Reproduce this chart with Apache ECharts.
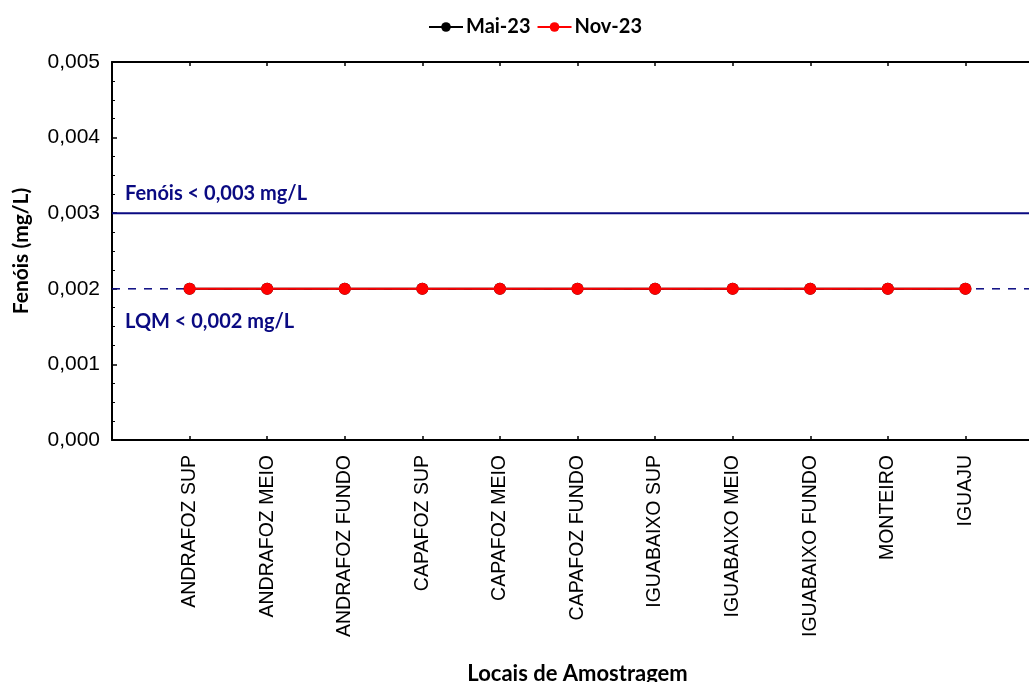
<!DOCTYPE html>
<html>
<head>
<meta charset="utf-8">
<script src="https://cdn.jsdelivr.net/npm/echarts@6/dist/echarts.min.js"></script>
<style>
  html, body { margin: 0; padding: 0; background: #fff; }
  #chart { width: 1029px; height: 682px; }
</style>
</head>
<body>
<div id="chart"></div>
<script>
// Sampling sites
const categories = [
  'ANDRAFOZ SUP', 'ANDRAFOZ MEIO', 'ANDRAFOZ FUNDO',
  'CAPAFOZ SUP', 'CAPAFOZ MEIO', 'CAPAFOZ FUNDO',
  'IGUABAIXO SUP', 'IGUABAIXO MEIO', 'IGUABAIXO FUNDO',
  'MONTEIRO', 'IGUAJU'
];
// Phenol concentrations (mg/L) per campaign
const mai23 = [0.002, 0.002, 0.002, 0.002, 0.002, 0.002, 0.002, 0.002, 0.002, 0.002, 0.002];
const nov23 = [0.002, 0.002, 0.002, 0.002, 0.002, 0.002, 0.002, 0.002, 0.002, 0.002, 0.002];
// Reference levels
const limitValue = 0.003;   // Fenóis limit
const lqmValue = 0.002;     // quantification limit
const limitLabel = 'Fenóis < 0,003 mg/L';
const lqmLabel = 'LQM < 0,002 mg/L';
// Y tick range
const yMin = 0, yMax = 0.005, yStep = 0.001;

const xMax = categories.length + 1;
const toPairs = arr => arr.map((v, i) => [i + 1, v]);
const navy = '#0a0a82';
const labelFont = '"Liberation Sans", Arial, sans-serif';
const boldFont = 'Lato, "Open Sans", sans-serif';

// Horizontal reference line spanning the whole x range, labelled at its left end
function refLine(name, value, lineStyle, text, dy) {
  return {
    name: name,
    type: 'line',
    data: [[0, value], [xMax, value]],
    symbol: 'circle',
    symbolSize: 0.01,
    silent: true,
    lineStyle: lineStyle,
    itemStyle: { color: navy },
    z: 1,
    label: {
      show: true,
      position: 'right',
      distance: 13,
      offset: [0, dy],
      fontFamily: boldFont, fontWeight: 'bold', fontSize: 20, color: navy,
      formatter: p => (p.dataIndex === 0 ? text : '')
    }
  };
}

const axisLineStyle = { show: true, lineStyle: { color: '#000', width: 2 } };
const xTick = { show: true, inside: true, length: 4, lineStyle: { color: '#000', width: 1.5 } };

const chart = echarts.init(document.getElementById('chart'));
chart.setOption({
  animation: false,
  backgroundColor: '#fff',
  legend: {
    top: 12,
    left: 423,
    itemWidth: 34,
    itemHeight: 12,
    itemGap: 6,
    textStyle: { fontFamily: boldFont, fontWeight: 'bold', fontSize: 20, color: '#000', padding: [0, 0, 0, -2] },
    data: ['Mai-23', 'Nov-23']
  },
  grid: { left: 112, right: -14, top: 62, bottom: 242, containLabel: false, outerBoundsMode: 'none' },
  xAxis: [{
    type: 'value',
    min: 0, max: xMax, interval: 1,
    name: 'Locais de Amostragem',
    nameLocation: 'middle',
    nameGap: 223,
    nameTextStyle: { fontFamily: boldFont, fontWeight: 'bold', fontSize: 22, color: '#000' },
    axisLine: axisLineStyle,
    axisTick: xTick,
    splitLine: { show: false },
    axisLabel: {
      rotate: 90,
      margin: 15,
      fontFamily: labelFont,
      fontSize: 19.5,
      color: '#000',
      formatter: v => categories[v - 1] || ''
    }
  }, {
    type: 'value',
    position: 'top',
    min: 0, max: xMax, interval: 1,
    axisLine: axisLineStyle,
    axisTick: xTick,
    splitLine: { show: false },
    axisLabel: { show: false }
  }],
  yAxis: {
    type: 'value',
    min: yMin, max: yMax, interval: yStep,
    name: 'Fenóis (mg/L)',
    nameLocation: 'middle',
    nameRotate: 90,
    nameGap: 80,
    nameTextStyle: { fontFamily: boldFont, fontWeight: 'bold', fontSize: 21, color: '#000' },
    axisLine: axisLineStyle,
    axisTick: { show: true, inside: true, length: 5, lineStyle: { color: '#000', width: 1.5 } },
    minorTick: { show: true, splitNumber: 4, length: 3, lineStyle: { color: '#000', width: 1 } },
    splitLine: { show: false },
    axisLabel: {
      margin: 12,
      fontFamily: labelFont,
      fontSize: 21,
      color: '#000',
      formatter: v => v.toFixed(3).replace('.', ',')
    }
  },
  series: [
    refLine('limit', limitValue, { color: navy, width: 2, type: 'solid' }, limitLabel, -20),
    refLine('lqm', lqmValue, { color: navy, width: 1.5, type: [8, 8] }, lqmLabel, 33),
    {
      name: 'Mai-23',
      type: 'line',
      data: toPairs(mai23),
      symbol: 'circle',
      symbolSize: 12,
      itemStyle: { color: '#000' },
      lineStyle: { color: '#000', width: 2 },
      z: 3
    }, {
      name: 'Nov-23',
      type: 'line',
      data: toPairs(nov23),
      symbol: 'circle',
      symbolSize: 12,
      itemStyle: { color: '#ff0000' },
      lineStyle: { color: '#ff0000', width: 2 },
      z: 4
    }
  ]
});
</script>
</body>
</html>
